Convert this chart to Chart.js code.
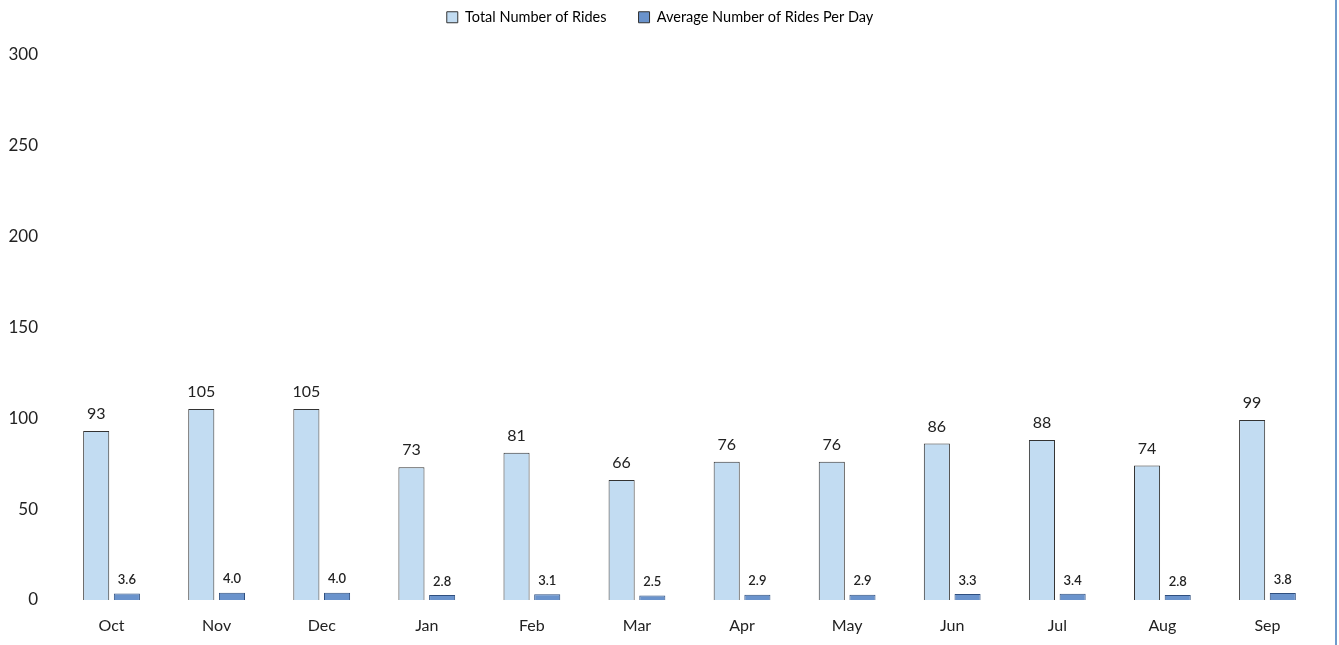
<!DOCTYPE html>
<html><head><meta charset="utf-8">
<script src="https://cdn.jsdelivr.net/npm/chart.js@4/dist/chart.umd.min.js"></script>
<style>
html,body{margin:0;padding:0;background:#fff;}
#wrap{position:relative;width:1339px;height:645px;}
#edge{position:absolute;left:1335px;top:0;width:2px;height:645px;background:#6f9bcc;}
</style></head>
<body><div id="wrap"><canvas id="c" width="1339" height="645"></canvas><div id="edge"></div></div>
<script>
const categories = ['Oct','Nov','Dec','Jan','Feb','Mar','Apr','May','Jun','Jul','Aug','Sep'];
const totalRides = [93,105,105,73,81,66,76,76,86,88,74,99];
const avgRidesPerDay = [3.6,4.0,4.0,2.8,3.1,2.5,2.9,2.9,3.3,3.4,2.8,3.8];
const yTicks = [0,50,100,150,200,250,300];

const FONT = 'Lato, "Open Sans", sans-serif';

const labelPlugin = {
  id: 'barLabels',
  afterDatasetsDraw(chart) {
    const ctx = chart.ctx;
    ctx.save();
    ctx.textAlign = 'center';
    ctx.textBaseline = 'bottom';
    chart.data.datasets.forEach((ds, i) => {
      const meta = chart.getDatasetMeta(i);
      meta.data.forEach((bar, j) => {
        const v = ds.data[j];
        if (i === 0) {
          ctx.font = '16px ' + FONT;
          ctx.fillStyle = '#222';
          ctx.fillText(String(v), bar.x, bar.y - 9);
        } else {
          ctx.font = '600 13px ' + FONT;
          ctx.fillStyle = '#222';
          ctx.fillText(v.toFixed(1), bar.x, bar.y - 7);
        }
      });
    });
    ctx.restore();
  }
};

new Chart(document.getElementById('c'), {
  type: 'bar',
  data: {
    labels: categories,
    datasets: [
      { label: 'Total Number of Rides', data: totalRides, backgroundColor: '#c2dcf2', borderColor: '#333', borderWidth: 1, categoryPercentage: 0.584, barPercentage: 0.85 },
      { label: 'Average Number of Rides Per Day', data: avgRidesPerDay, backgroundColor: '#6a93cc', borderColor: '#2f4f7f', borderWidth: 1, categoryPercentage: 0.584, barPercentage: 0.85 }
    ]
  },
  plugins: [labelPlugin],
  options: {
    responsive: false,
    animation: false,
    layout: { padding: { left: 0, right: 19, top: -22, bottom: 0 } },
    plugins: {
      tooltip: { enabled: false },
      subtitle: { display: true, text: '', weight: 500, font: { size: 10 }, padding: { top: 0, bottom: 8 } },
      legend: {
        position: 'top',
        labels: {
          font: { family: FONT, size: 14.5 },
          color: '#222',
          boxWidth: 11, boxHeight: 11,
          padding: 32,
          generateLabels(chart) {
            return chart.data.datasets.map((ds, i) => ({
              text: ds.label, fillStyle: ds.backgroundColor, strokeStyle: '#333', lineWidth: 1, datasetIndex: i, hidden: false
            }));
          }
        }
      }
    },
    scales: {
      x: {
        grid: { display: false, drawTicks: false },
        border: { display: false },
        ticks: { font: { family: FONT, size: 16 }, color: '#222', padding: 16 },
        afterFit(s) { s.height = 45; }
      },
      y: {
        min: 0, max: 300,
        afterBuildTicks(s) { s.ticks = yTicks.map(v => ({ value: v })); },
        grid: { display: false, drawTicks: false },
        border: { display: false },
        ticks: { font: { family: FONT, size: 17 }, color: '#222', padding: 21 },
        afterFit(s) { s.width = 59; }
      }
    }
  }
});
</script></body></html>
